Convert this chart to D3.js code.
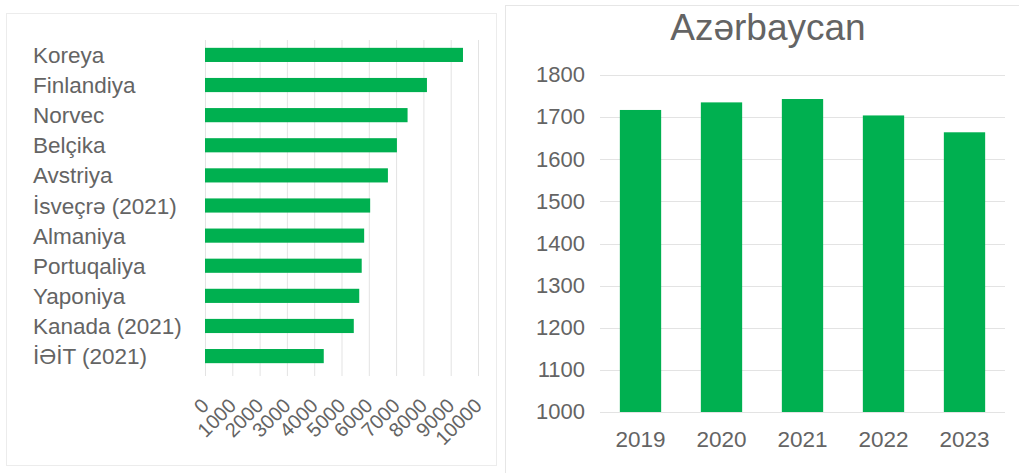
<!DOCTYPE html>
<html lang="az">
<head>
  <meta charset="UTF-8">
  <title>Azərbaycan</title>
  <script src="https://d3js.org/d3.v7.min.js"></script>
  <style>
    body {
      margin: 0;
      padding: 0;
      background-color: #fff;
      font-family: "Liberation Sans", Arial, sans-serif;
    }
    svg {
      display: block;
    }
    .lbl {
      fill: #646464;
    }
  </style>
</head>
<body>
  <svg id="canvas" width="1019" height="473"></svg>
  <script>
// left chart: countries
const countries = ["Koreya", "Finlandiya", "Norvec", "Belçika", "Avstriya", "İsveçrə (2021)",
  "Almaniya", "Portuqaliya", "Yaponiya", "Kanada (2021)", "İƏİT (2021)"];
const countryValues = [9450, 8130, 7420, 7030, 6700, 6050, 5830, 5740, 5650, 5450, 4350];
const countryTicks = [0, 1000, 2000, 3000, 4000, 5000, 6000, 7000, 8000, 9000, 10000];

// right chart: Azerbaijan by year
const years = ["2019", "2020", "2021", "2022", "2023"];
const azValues = [1717, 1735, 1743, 1704, 1664];
const azTicks = [1000, 1100, 1200, 1300, 1400, 1500, 1600, 1700, 1800];

const green = "#00b050";
const grid = "#e3e3e3";

const svg = d3.select("#canvas");

// panel frames
svg.append("rect")
  .attr("x", 6.5).attr("y", 13.5).attr("width", 490).attr("height", 452)
  .attr("fill", "none").attr("stroke", "#ececec");
svg.append("rect")
  .attr("x", 505.5).attr("y", 5.5).attr("width", 520).attr("height", 480)
  .attr("fill", "#fff").attr("stroke", "#e6e6e6");

// ---- left chart ----
const x1 = d3.scaleLinear().domain([0, 10000]).range([205, 478]);
const y1 = d3.scaleBand().domain(countries).range([40, 371]).paddingInner(0.53).paddingOuter(0.26);

const left = svg.append("g");

left.selectAll("line.grid")
  .data(countryTicks)
  .join("line")
  .attr("class", "grid")
  .attr("x1", d => x1(d) + 0.5).attr("x2", d => x1(d) + 0.5)
  .attr("y1", 40).attr("y2", 376)
  .attr("stroke", grid);

left.selectAll("rect.bar")
  .data(countryValues)
  .join("rect")
  .attr("class", "bar")
  .attr("x", x1(0))
  .attr("y", (d, i) => y1(countries[i]))
  .attr("width", d => x1(d) - x1(0))
  .attr("height", y1.bandwidth())
  .attr("fill", green);

left.selectAll("text.cat")
  .data(countries)
  .join("text")
  .attr("class", "lbl cat")
  .attr("x", 33)
  .attr("y", d => y1(d) + y1.bandwidth() / 2)
  .attr("dy", "0.36em")
  .attr("font-size", 22.5)
  .text(d => d);

left.selectAll("text.tick")
  .data(countryTicks)
  .join("text")
  .attr("class", "lbl tick")
  .attr("text-anchor", "end")
  .attr("font-size", 20)
  .attr("transform", d => `translate(${x1(d) + 5},${407}) rotate(-45)`)
  .text(d => d);

// ---- right chart ----
const x2 = d3.scaleBand().domain(years).range([600, 1005]).paddingInner(0.49).paddingOuter(0.245);
const y2 = d3.scaleLinear().domain([1000, 1800]).range([412, 75]);

const right = svg.append("g");

right.append("text")
  .attr("class", "lbl")
  .attr("x", 768).attr("y", 40)
  .attr("text-anchor", "middle")
  .attr("font-size", 37)
  .text("Azərbaycan");

right.selectAll("line.grid")
  .data(azTicks)
  .join("line")
  .attr("class", "grid")
  .attr("x1", 600).attr("x2", 1005)
  .attr("y1", d => Math.round(y2(d)) + 0.5).attr("y2", d => Math.round(y2(d)) + 0.5)
  .attr("stroke", grid);

right.selectAll("text.ytick")
  .data(azTicks)
  .join("text")
  .attr("class", "lbl ytick")
  .attr("x", 585)
  .attr("y", d => y2(d))
  .attr("dy", "0.33em")
  .attr("text-anchor", "end")
  .attr("font-size", 22)
  .text(d => d);

right.selectAll("rect.bar")
  .data(azValues)
  .join("rect")
  .attr("class", "bar")
  .attr("x", (d, i) => x2(years[i]))
  .attr("y", d => y2(d))
  .attr("width", x2.bandwidth())
  .attr("height", d => y2(1000) - y2(d))
  .attr("fill", green);

right.selectAll("text.xtick")
  .data(years)
  .join("text")
  .attr("class", "lbl xtick")
  .attr("x", d => x2(d) + x2.bandwidth() / 2)
  .attr("y", 447)
  .attr("text-anchor", "middle")
  .attr("font-size", 22.5)
  .text(d => d);
  </script>
</body>
</html>
